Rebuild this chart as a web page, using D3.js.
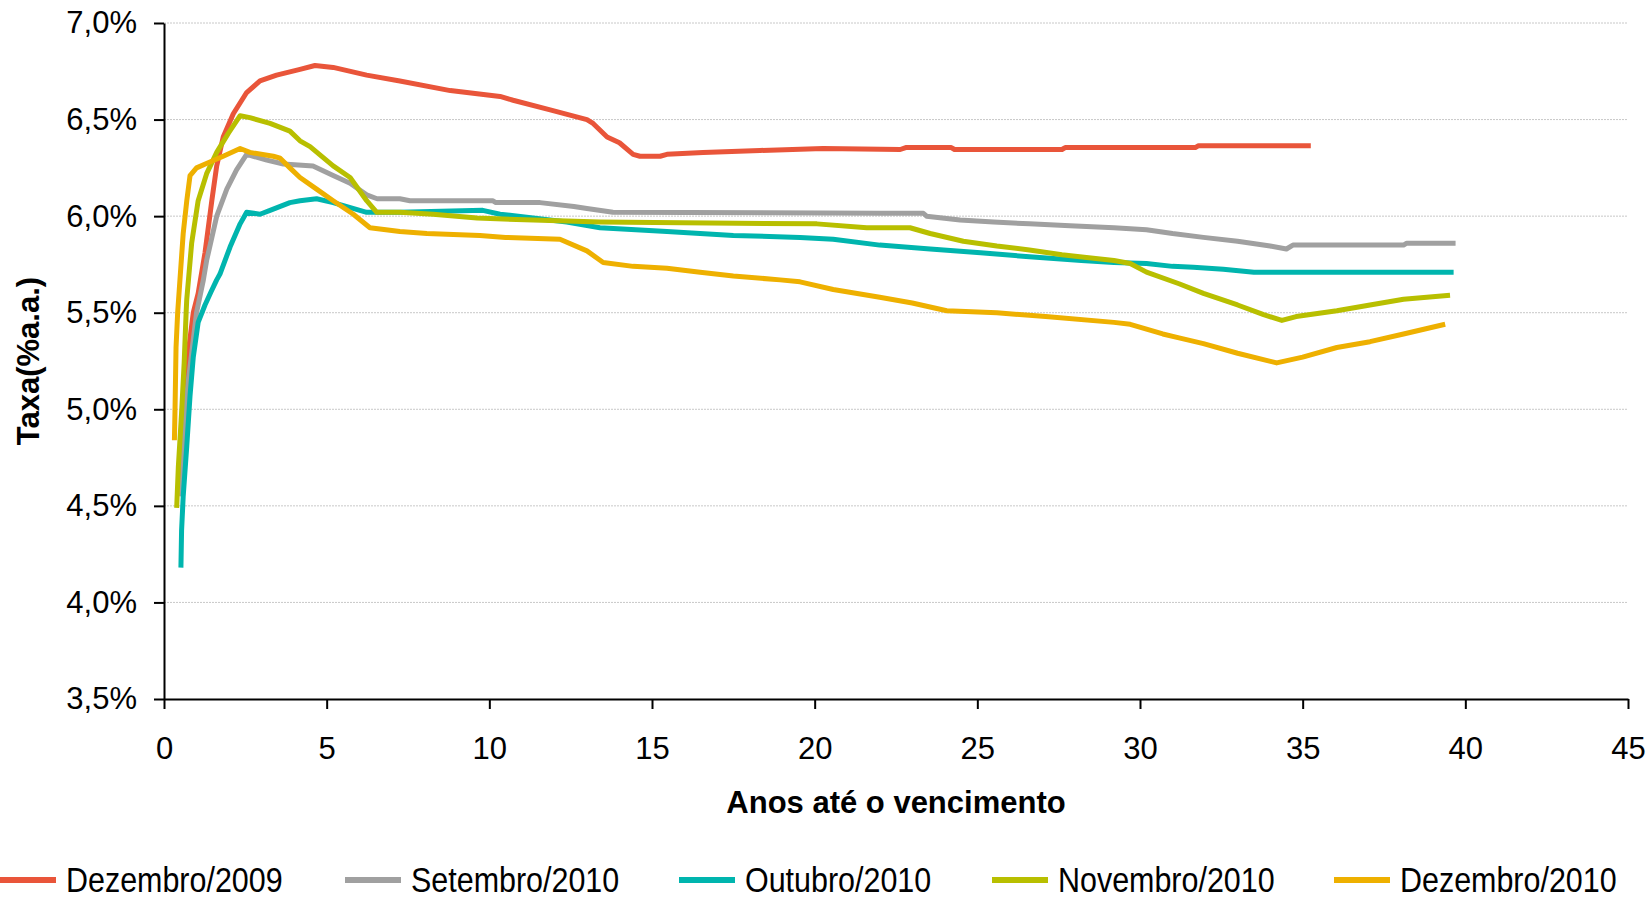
<html>
<head>
  <meta charset="utf-8">
  <title>Taxa x Anos até o vencimento</title>
  <script src="https://d3js.org/d3.v7.min.js"></script>
  <style>
    body { margin: 0; background: #fff; }
    text { font-family: "Liberation Sans", Arial, sans-serif; fill: #000; }
    .axis path, .axis line { stroke: #000; stroke-width: 2; }
    .grid line { stroke: #c8c8c8; stroke-width: 1; stroke-dasharray: 2,1; }
  </style>
</head>
<body>
<svg id="chart" width="1650" height="900"></svg>
<script>
  // series names and [anos, taxa %] points
  var seriesNames = ["Dezembro/2009", "Setembro/2010", "Outubro/2010", "Novembro/2010", "Dezembro/2010"];
  var seriesColors = ["#e9553a", "#a0a0a0", "#00b5ae", "#b8bf00", "#eeb000"];

  var dez2009 = [[0.55,4.55],[0.62,5.0],[0.75,5.3],[0.9,5.5],[1.05,5.6],[1.26,5.81],[1.47,6.08],[1.62,6.26],[1.82,6.41],
    [2.13,6.53],[2.54,6.64],[2.95,6.70],[3.46,6.73],[4.18,6.76],[4.64,6.78],[5.2,6.77],[6.23,6.73],[7.25,6.70],[8.8,6.65],
    [10.33,6.62],[10.73,6.60],[11.87,6.55],[13.0,6.50],[13.19,6.48],[13.62,6.41],[14.0,6.38],[14.42,6.32],[14.63,6.31],
    [15.25,6.31],[15.46,6.32],[16.57,6.33],[18.32,6.34],[20.26,6.35],[22.63,6.345],[22.8,6.355],[24.2,6.355],[24.3,6.345],
    [27.6,6.345],[27.7,6.355],[31.7,6.355],[31.8,6.365],[35.25,6.365]];

  var set2010 = [[0.55,4.55],[0.65,5.0],[0.75,5.15],[1.0,5.5],[1.21,5.67],[1.31,5.77],[1.62,6.0],[1.93,6.14],[2.23,6.24],
    [2.54,6.32],[3.16,6.29],[3.67,6.27],[4.58,6.26],[5.2,6.21],[5.72,6.17],[6.23,6.11],[6.55,6.09],[7.25,6.09],[7.56,6.08],
    [10.1,6.08],[10.2,6.07],[11.56,6.07],[12.6,6.05],[13.0,6.04],[13.8,6.02],[22.0,6.015],[23.34,6.015],[23.44,6.0],
    [24.47,5.98],[25.5,5.97],[26.6,5.96],[27.85,5.95],[29.2,5.94],[30.2,5.93],[31.0,5.91],[31.95,5.89],[33.0,5.87],
    [34.0,5.845],[34.5,5.83],[34.7,5.85],[38.1,5.85],[38.2,5.86],[39.7,5.86]];

  var out2010 = [[0.52,4.18],[0.54,4.37],[0.59,4.55],[0.70,4.81],[0.80,5.07],[0.90,5.27],[1.05,5.45],[1.26,5.54],
    [1.45,5.61],[1.62,5.67],[1.72,5.70],[2.03,5.84],[2.34,5.96],[2.54,6.02],[2.95,6.01],[3.26,6.03],[3.87,6.07],[4.18,6.08],
    [4.69,6.09],[5.2,6.07],[6.23,6.02],[7.25,6.02],[9.8,6.03],[10.33,6.01],[12.38,5.97],[13.4,5.94],[15.46,5.92],
    [17.5,5.90],[19.55,5.89],[20.57,5.88],[22.0,5.85],[23.55,5.83],[25.1,5.81],[26.6,5.79],[28.2,5.77],[29.2,5.76],
    [30.2,5.755],[31.0,5.74],[31.64,5.735],[32.56,5.725],[33.5,5.71],[39.64,5.71]];

  var nov2010 = [[0.39,4.49],[0.44,4.70],[0.54,4.98],[0.62,5.24],[0.68,5.50],[0.70,5.57],[0.85,5.86],[1.05,6.08],
    [1.31,6.22],[1.62,6.33],[1.98,6.43],[2.34,6.52],[2.64,6.51],[3.26,6.48],[3.87,6.44],[4.18,6.39],[4.49,6.36],[5.2,6.26],
    [5.72,6.20],[6.23,6.08],[6.54,6.02],[7.25,6.02],[8.27,6.01],[9.62,5.99],[11.35,5.98],[13.4,5.97],[20.07,5.96],
    [21.6,5.94],[22.93,5.94],[23.55,5.91],[24.57,5.87],[25.6,5.845],[26.6,5.825],[27.6,5.80],[29.2,5.77],[29.7,5.755],
    [30.2,5.71],[31.2,5.65],[31.95,5.60],[33.0,5.54],[33.8,5.49],[34.36,5.46],[34.8,5.48],[36.05,5.51],[37.07,5.54],
    [38.1,5.57],[39.53,5.59]];

  var dez2010 = [[0.32,4.84],[0.34,5.01],[0.37,5.32],[0.42,5.50],[0.49,5.67],[0.59,5.91],[0.70,6.08],[0.80,6.21],
    [1.0,6.25],[1.41,6.28],[1.82,6.31],[2.34,6.35],[2.64,6.33],[3.36,6.31],[3.57,6.30],[3.87,6.25],[4.18,6.20],[4.69,6.14],
    [5.2,6.08],[5.82,6.01],[6.33,5.94],[7.25,5.92],[8.08,5.91],[9.71,5.90],[10.5,5.89],[12.17,5.88],[13.0,5.82],
    [13.5,5.76],[14.42,5.74],[15.46,5.73],[16.48,5.71],[17.5,5.69],[18.94,5.67],[19.55,5.66],[20.57,5.62],[22.0,5.58],
    [23.0,5.55],[24.06,5.51],[25.6,5.50],[27.1,5.48],[29.2,5.45],[29.7,5.44],[30.7,5.39],[31.2,5.37],[31.95,5.34],
    [33.0,5.29],[34.2,5.24],[35.0,5.27],[36.05,5.32],[37.07,5.35],[38.1,5.39],[39.38,5.44]];

  var xTicks = [0, 5, 10, 15, 20, 25, 30, 35, 40, 45];
  var yTicks = [3.5, 4.0, 4.5, 5.0, 5.5, 6.0, 6.5, 7.0];

  var allSeries = [dez2009, set2010, out2010, nov2010, dez2010];

  var margin = { top: 23, right: 22, bottom: 201, left: 164 },
    width = 1650 - margin.left - margin.right,
    height = 900 - margin.top - margin.bottom;

  var svg = d3.select("#chart");
  var chart = svg.append("g")
    .attr("transform", "translate(" + margin.left + "," + margin.top + ")");

  var xScale = d3.scaleLinear().domain([0, 45]).range([0, width]);
  var yScale = d3.scaleLinear().domain([3.5, 7.0]).range([height, 0]);

  // grid
  chart.append("g")
    .attr("class", "grid")
    .selectAll("line")
    .data(yTicks.filter(function (d) { return d > 3.5; }))
    .enter()
    .append("line")
    .attr("x1", 0)
    .attr("x2", width)
    .attr("y1", function (d) { return yScale(d); })
    .attr("y2", function (d) { return yScale(d); });

  var fmt = function (d) { return d.toFixed(1).replace(".", ",") + "%"; };

  chart.append("g")
    .attr("class", "axis")
    .call(d3.axisLeft(yScale).tickValues(yTicks).tickFormat(fmt).tickSize(10).tickSizeOuter(0).tickPadding(17));

  chart.append("g")
    .attr("class", "axis")
    .attr("transform", "translate(0," + height + ")")
    .call(d3.axisBottom(xScale).tickValues(xTicks).tickSize(10).tickSizeOuter(0).tickPadding(28));

  chart.selectAll(".axis text")
    .style("font-size", "31px")
    .style("font-family", "'Liberation Sans', Arial, sans-serif");

  // lines
  var line = d3.line()
    .x(function (d) { return xScale(d[0]); })
    .y(function (d) { return yScale(d[1]); });

  chart.selectAll(".serie")
    .data(allSeries)
    .enter()
    .append("path")
    .attr("class", "serie")
    .attr("fill", "none")
    .attr("stroke", function (d, i) { return seriesColors[i]; })
    .attr("stroke-width", 5)
    .attr("stroke-linejoin", "round")
    .attr("d", line);

  // axis titles
  svg.append("text")
    .attr("x", margin.left + width / 2)
    .attr("y", 813)
    .attr("text-anchor", "middle")
    .style("font-size", "31px")
    .style("font-weight", "bold")
    .text("Anos até o vencimento");

  svg.append("text")
    .attr("transform", "translate(39," + (margin.top + height / 2) + ") rotate(-90)")
    .attr("text-anchor", "middle")
    .style("font-size", "31px")
    .style("font-weight", "bold")
    .text("Taxa(%a.a.)");

  // legend (narrow look: regular font squeezed horizontally)
  var legendX = [0, 345, 679, 992, 1334];
  var legend = svg.append("g").attr("class", "legend");
  var items = legend.selectAll("g")
    .data(seriesNames)
    .enter()
    .append("g")
    .attr("transform", function (d, i) { return "translate(" + legendX[i] + ",880)"; });

  items.append("line")
    .attr("x1", 0)
    .attr("x2", 56)
    .attr("stroke", function (d, i) { return seriesColors[i]; })
    .attr("stroke-width", 6);

  items.append("text")
    .attr("transform", "translate(66,0) scale(0.87,1)")
    .attr("dy", "0.34em")
    .style("font-size", "35px")
    .text(function (d) { return d; });
</script>
</body>
</html>
